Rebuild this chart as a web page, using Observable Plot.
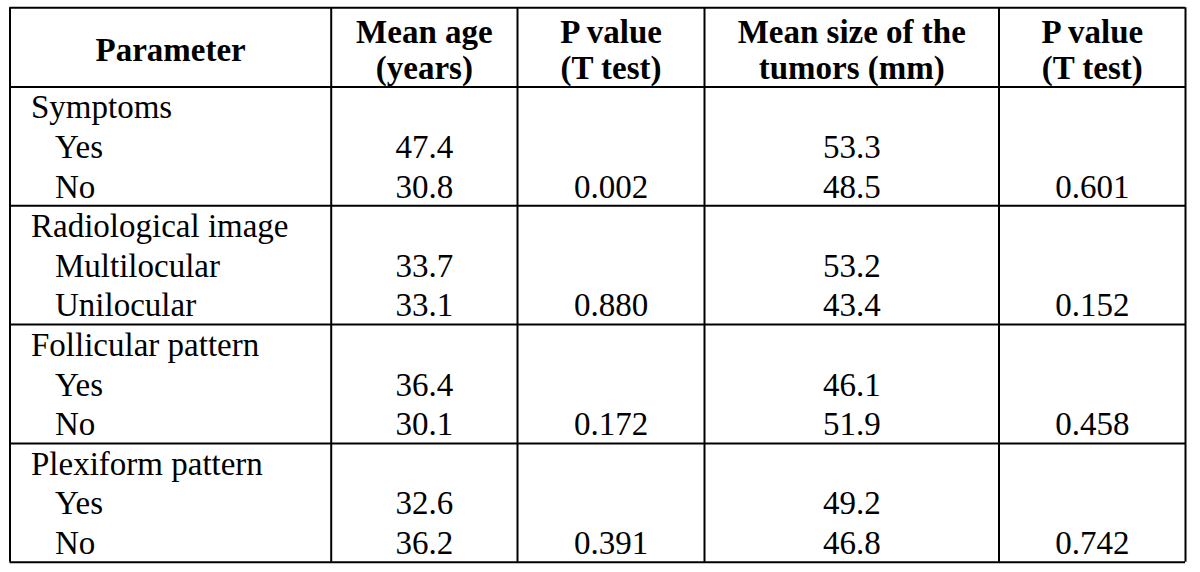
<!DOCTYPE html>
<html>
<head>
<meta charset="utf-8">
<script src="https://cdn.jsdelivr.net/npm/d3@7"></script>
<script src="https://cdn.jsdelivr.net/npm/@observablehq/plot@0.6"></script>
<style>
  html, body { margin: 0; padding: 0; background: #fff; }
  #chart svg { display: block; background: #fff; }
</style>
</head>
<body>
<div id="chart"></div>
<script>
// ---- data ----
const headers = ["Parameter", "Mean age\n(years)", "P value\n(T test)", "Mean size of the\ntumors (mm)", "P value\n(T test)"];
const parameters = ["Symptoms", "Radiological image", "Follicular pattern", "Plexiform pattern"];
const levels = [["Yes", "No"], ["Multilocular", "Unilocular"], ["Yes", "No"], ["Yes", "No"]];
const meanAge = [[47.4, 30.8], [33.7, 33.1], [36.4, 30.1], [32.6, 36.2]];
const pAge = [0.002, 0.880, 0.172, 0.391];
const meanSize = [[53.3, 48.5], [53.2, 43.4], [46.1, 51.9], [49.2, 46.8]];
const pSize = [0.601, 0.152, 0.458, 0.742];

// ---- layout ----
const colEdges = [9.5, 330.7, 517, 704, 998.5, 1185];
const headerRows = 2;
const groupRows = 3;
const totalRows = headerRows + groupRows * parameters.length;

// build cells
const headerCells = headers.map((h, i) => ({col: i + 0.5, row: headerRows / 2, text: h}));
const labelCells = [];
const valueCells = [];
parameters.forEach((p, g) => {
  const r0 = headerRows + groupRows * g;
  labelCells.push({col: 0, row: r0 + 0.5, text: p, indent: false});
  levels[g].forEach((lv, k) => {
    const r = r0 + 1 + k + 0.5;
    labelCells.push({col: 0, row: r, text: lv, indent: true});
    valueCells.push({col: 1.5, row: r, text: meanAge[g][k].toFixed(1)});
    valueCells.push({col: 3.5, row: r, text: meanSize[g][k].toFixed(1)});
  });
  const rl = r0 + 2 + 0.5;
  valueCells.push({col: 2.5, row: rl, text: pAge[g].toFixed(3)});
  valueCells.push({col: 4.5, row: rl, text: pSize[g].toFixed(3)});
});
const hLines = [0, headerRows];
parameters.forEach((p, g) => hLines.push(headerRows + groupRows * (g + 1)));
const vLines = d3.range(colEdges.length);

const font = "'Liberation Serif', 'Times New Roman', serif";

const chart = Plot.plot({
  width: 1200,
  height: 572,
  margin: 0,
  style: {background: "#fff", fontFamily: font},
  x: {type: "linear", domain: d3.range(colEdges.length), range: colEdges, axis: null},
  y: {type: "linear", domain: [0, totalRows], range: [7.3, 561.7], axis: null},
  marks: [
    Plot.ruleY(hLines, {y: d => d, x1: 0, x2: colEdges.length - 1, stroke: "#000", strokeWidth: 2}),
    Plot.ruleX(vLines, {x: d => d, y1: 0, y2: totalRows, stroke: "#000", strokeWidth: 2}),
    Plot.text(headerCells, {x: "col", y: "row", text: "text", fontSize: 33, fontWeight: "bold", lineHeight: 1.08, fill: "#000", dy: 2, fontFamily: font}),
    Plot.text(labelCells.filter(d => !d.indent), {x: "col", y: "row", text: "text", textAnchor: "start", dx: 21, dy: 1, fontSize: 33, fill: "#000", fontFamily: font}),
    Plot.text(labelCells.filter(d => d.indent), {x: "col", y: "row", text: "text", textAnchor: "start", dx: 45, dy: 1, fontSize: 33, fill: "#000", fontFamily: font}),
    Plot.text(valueCells, {x: "col", y: "row", text: "text", fontSize: 33, fill: "#000", dy: 1, fontFamily: font})
  ]
});
document.getElementById("chart").appendChild(chart);
</script>
</body>
</html>
